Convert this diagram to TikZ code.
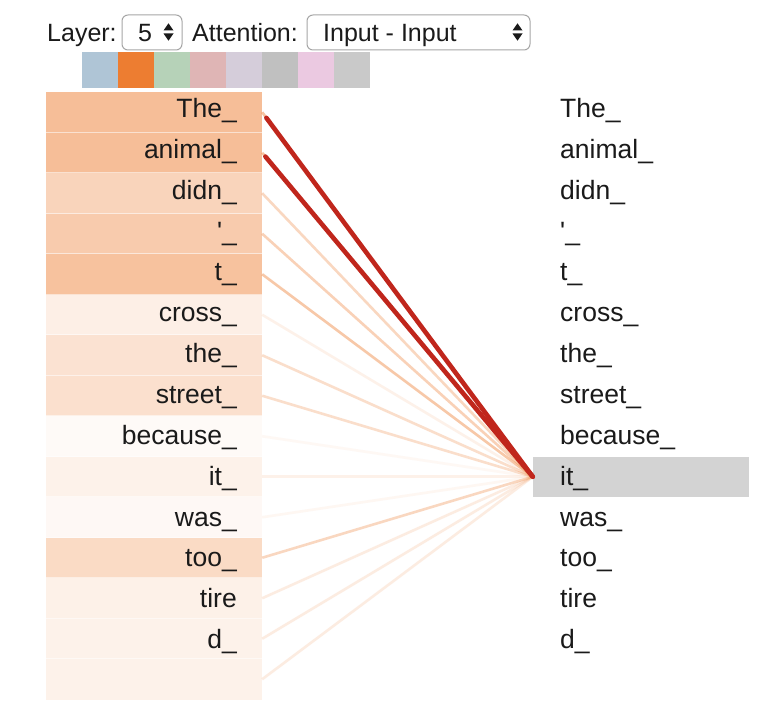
\documentclass[tikz,border=0pt]{standalone}
\usepackage{fontspec}
\setmainfont{Liberation Sans}
\newfontfamily\plainsans{Liberation Sans}
\definecolor{att}{HTML}{EE7D31}
\definecolor{redl}{RGB}{192,38,28}
\definecolor{hl}{HTML}{D3D3D3}
\definecolor{txt}{HTML}{1A1A1A}
\definecolor{swA}{RGB}{175,197,214}
\definecolor{swB}{RGB}{237,125,49}
\definecolor{swC}{RGB}{182,210,184}
\definecolor{swD}{RGB}{223,181,181}
\definecolor{swE}{RGB}{213,205,218}
\definecolor{swF}{RGB}{192,192,192}
\definecolor{swG}{RGB}{235,201,225}
\definecolor{swH}{RGB}{201,201,201}
\begin{document}
\begin{tikzpicture}[x=1pt,y=-1pt,
  tok/.style={font=\plainsans\fontsize{26.5}{30}\selectfont, inner sep=0pt, text=txt},
  ui/.style={font=\plainsans\fontsize{25}{30}\selectfont, inner sep=0pt, text=txt},
  lrow/.style={draw=none, minimum width=216pt, minimum height=40.5pt, inner sep=0pt},
  rrow/.style={draw=none, minimum width=216pt, minimum height=40pt, inner sep=0pt},
  selbox/.style={draw=black!35, line width=1pt, rounded corners=6pt, fill=white, minimum height=35pt, inner sep=0pt},
  swatch/.style={draw=none, minimum width=36pt, minimum height=36pt, inner sep=0pt},
  sep/.style={white, opacity=0.55, line width=1.1pt},
  attline/.style={att, line width=2.6pt},
  redline/.style={redl, line width=4.6pt, line cap=round}
]
\useasboundingbox (0,0) rectangle (775,727);
\fill[white] (0,0) rectangle (775,727);

% controls
\node[ui, anchor=base west] (layerlbl) at (47,41.7) {Layer:};
\node[selbox, minimum width=60pt] (layersel) at (152,32.5) {};
\node[ui, anchor=base west] (layerval) at (138,41.7) {5};
\fill[txt] (163.5,30.5) -- (168.5,23.3) -- (173.5,30.5) -- cycle;
\fill[txt] (163.5,33.5) -- (173.5,33.5) -- (168.5,40.7) -- cycle;
\node[ui, anchor=base west] (attlbl) at (192,41.7) {Attention:};
\node[selbox, minimum width=223pt] (attsel) at (418.5,32.5) {};
\node[ui, anchor=base west] (attval) at (323,41.7) {Input - Input};
\fill[txt] (512.5,30.5) -- (517.5,23.3) -- (522.5,30.5) -- cycle;
\fill[txt] (512.5,33.5) -- (522.5,33.5) -- (517.5,40.7) -- cycle;

% head swatches
\foreach \k/\c in {0/swA,1/swB,2/swC,3/swD,4/swE,5/swF,6/swG,7/swH}{
  \node[swatch, fill=\c] (sw\k) at ({100+36*\k},70) {};
}

% right column rows
\foreach \i/\w in {0/The\_,1/animal\_,2/didn\_,3/'\_,4/t\_,5/cross\_,6/the\_,7/street\_,8/because\_,9/it\_,10/was\_,11/too\_,12/tire,13/d\_}{
  \pgfmathsetmacro{\yc}{112.25+40.5*\i}
  \pgfmathsetmacro{\yb}{117.5+40.85*\i}
  \ifnum\i=9
    \node[rrow, fill=hl] (r\i) at (641,\yc) {};
  \else
    \node[rrow] (r\i) at (641,\yc) {};
  \fi
  \node[tok, anchor=base west] (rt\i) at (560,\yb) {\w};
}

% left column rows
\foreach \i/\w/\f/\a in {0/The\_/50/0.45,1/animal\_/50/0.45,2/didn\_/33/0.3,3/'\_/40/0.35,4/t\_/47/0.42,5/cross\_/12/0.1,6/the\_/22/0.25,7/street\_/24/0.25,8/because\_/4/0.05,9/it\_/10/0.1,10/was\_/5/0.06,11/too\_/28/0.3,12/tire/11/0.14,13/d\_/10/0.14,14//10/0.14}{
  \pgfmathsetmacro{\yc}{112.25+40.5*\i}
  \pgfmathsetmacro{\yb}{117.5+40.85*\i}
  \node[lrow, fill=att!\f!white] (l\i) at (154,\yc) {};
  \node[tok, anchor=base east] (lt\i) at (237,\yb) {\w};
  \draw[attline, opacity=\a] (l\i.east) -- (r9.west);
}
% faint row separators
\foreach \i in {1,...,14}{
  \draw[sep] (l\i.north west) -- (l\i.north east);
}

% strongest attention
\draw[redline, shorten <=7pt] (l0.east) -- (r9.west);
\draw[redline, shorten <=5pt] (l1.east) -- (r9.west);
\end{tikzpicture}
\end{document}
